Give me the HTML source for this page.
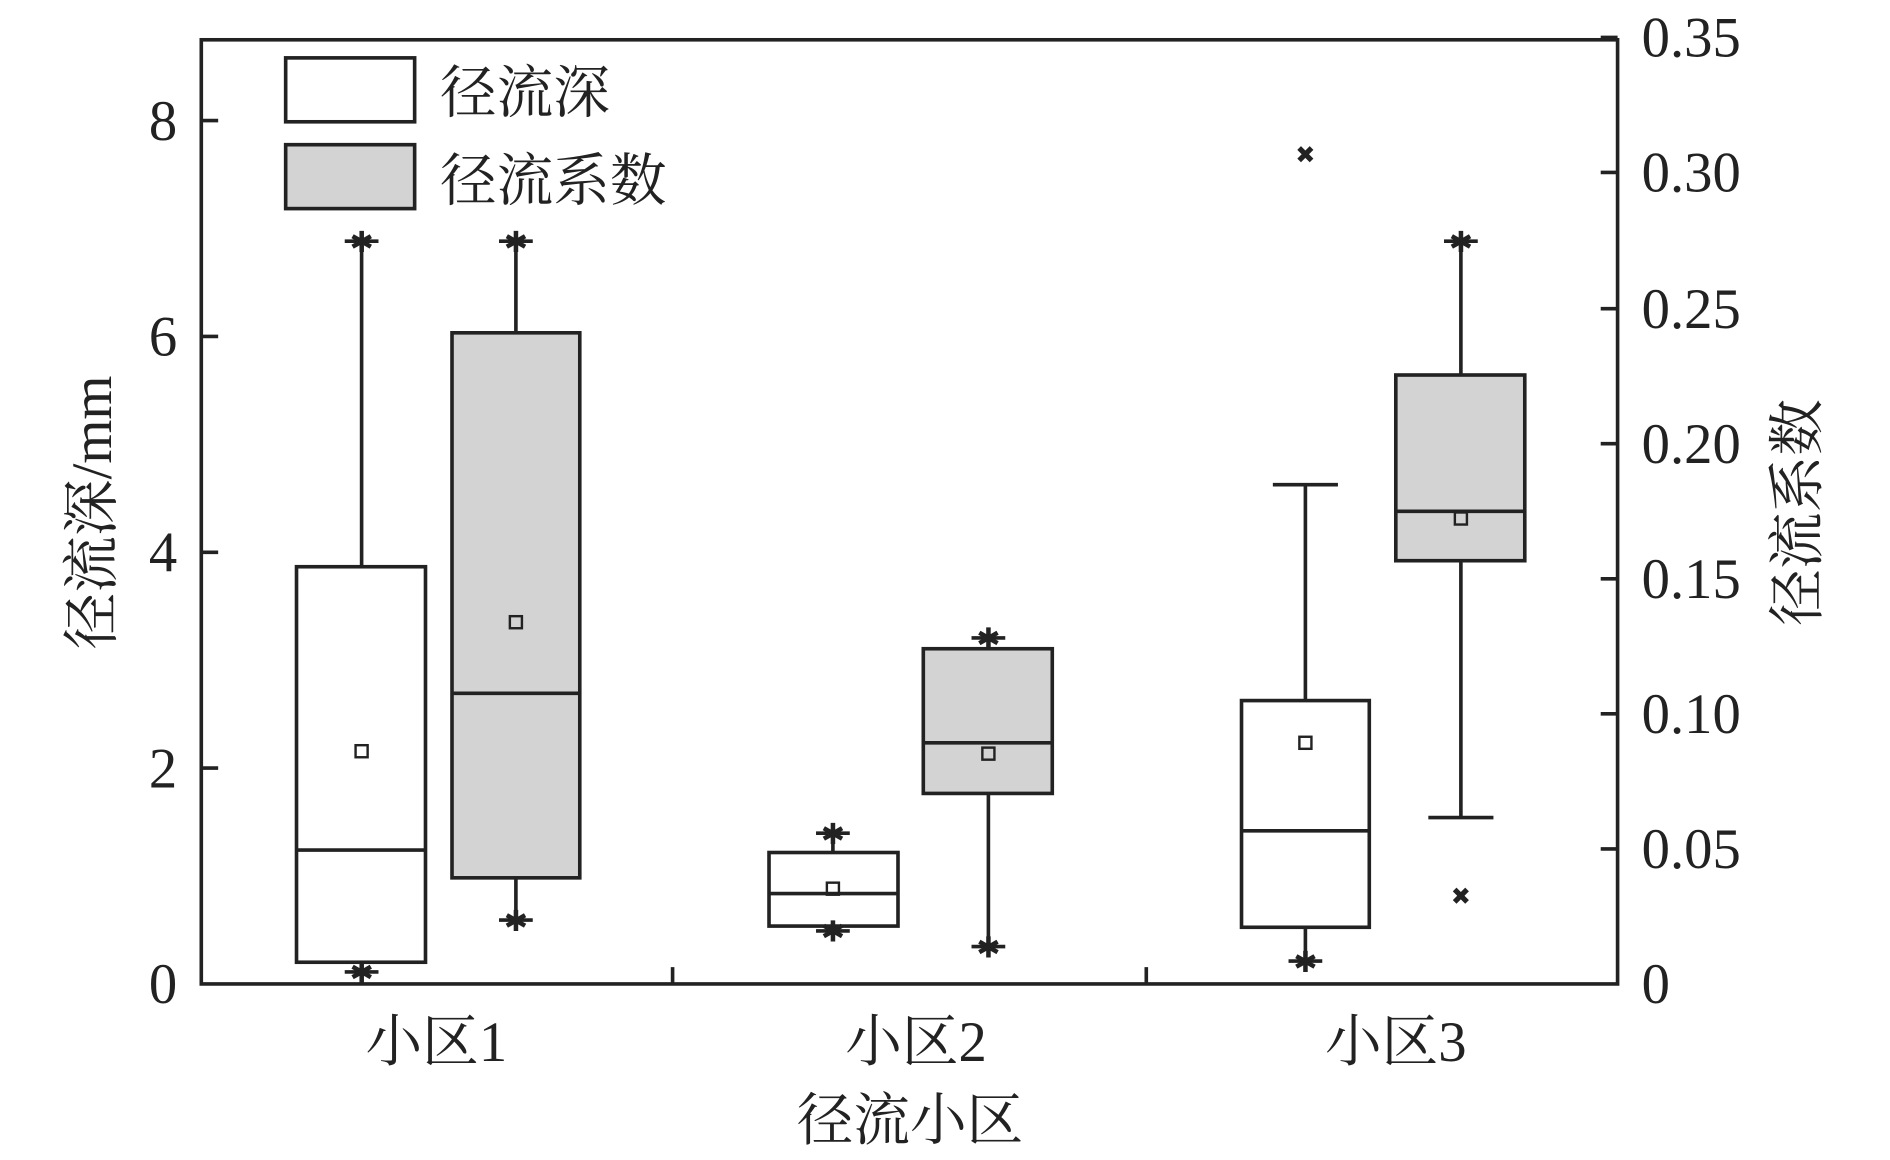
<!DOCTYPE html>
<html><head><meta charset="utf-8"><style>html,body{margin:0;padding:0;background:#fff;}svg{display:block}</style></head>
<body>
<svg width="1890" height="1160" viewBox="0 0 1568 962" preserveAspectRatio="none" xmlns="http://www.w3.org/2000/svg" font-family="'Liberation Serif','Noto Serif CJK SC',serif" fill="#222">
<g stroke="#222" stroke-width="3" fill="none">
<rect x="167" y="33" width="1175" height="783"/>
<path d="M167 100h14M167 279h14M167 458h14M167 637h14"/>
<path d="M1342 31h-14M1342 143h-14M1342 256h-14M1342 368h-14M1342 480h-14M1342 592h-14M1342 704h-14"/>
<path d="M558 816v-14M951 816v-14"/>
<path d="M300 200V470M300 798V806M286 200h28M286 806h28"/>
<rect x="246" y="470" width="107" height="328" fill="#fff"/>
<path d="M246 705h107"/>
<rect x="295" y="618" width="10" height="10" stroke-width="2"/>
<path d="M428 200V276M428 728V763M414 200h28M414 763h28"/>
<rect x="375" y="276" width="106" height="452" fill="#d3d3d3"/>
<path d="M375 575h106"/>
<rect x="423" y="511" width="10" height="10" stroke-width="2"/>
<path d="M691 691V707M691 768V772M677 691h28M677 772h28"/>
<rect x="638" y="707" width="107" height="61" fill="#fff"/>
<path d="M638 741h107"/>
<rect x="686" y="732" width="10" height="10" stroke-width="2"/>
<path d="M820 529V538M820 658V785M806 529h28M806 785h28"/>
<rect x="766" y="538" width="107" height="120" fill="#d3d3d3"/>
<path d="M766 616h107"/>
<rect x="815" y="620" width="10" height="10" stroke-width="2"/>
<path d="M1083 402V581M1083 769V797M1056 402h54M1069 797h28"/>
<rect x="1030" y="581" width="106" height="188" fill="#fff"/>
<path d="M1030 689h106"/>
<rect x="1078" y="611" width="10" height="10" stroke-width="2"/>
<path d="M1212 200V311M1212 465V678M1198 200h28M1185 678h54"/>
<rect x="1158" y="311" width="107" height="154" fill="#d3d3d3"/>
<path d="M1158 424h107"/>
<rect x="1207" y="425" width="10" height="10" stroke-width="2"/>
<rect x="237" y="48" width="107" height="53" fill="#fff"/>
<rect x="237" y="120" width="107" height="53" fill="#d3d3d3"/>
</g>
<g font-size="24" text-anchor="middle" font-family="'DejaVu Sans',sans-serif">
<text x="300" y="209">✱</text><text x="300" y="815">✱</text>
<text x="428" y="209">✱</text><text x="428" y="772">✱</text>
<text x="691" y="700">✱</text><text x="691" y="781">✱</text>
<text x="820" y="538">✱</text><text x="820" y="794">✱</text>
<text x="1083" y="806">✱</text><text x="1212" y="209">✱</text>
<text x="1083" y="135" font-size="20">✖</text><text x="1212" y="750" font-size="20">✖</text>
</g>
<g font-size="47">
<g text-anchor="end">
<text x="147" y="116">8</text><text x="147" y="295">6</text><text x="147" y="474">4</text><text x="147" y="653">2</text><text x="147" y="832">0</text>
</g>
<g>
<text x="1362" y="47">0.35</text><text x="1362" y="159">0.30</text><text x="1362" y="272">0.25</text><text x="1362" y="384">0.20</text><text x="1362" y="496">0.15</text><text x="1362" y="608">0.10</text><text x="1362" y="720">0.05</text><text x="1362" y="832">0</text>
</g>
<g text-anchor="middle">
<text x="362" y="880">小区1</text><text x="760" y="880">小区2</text><text x="1158" y="880">小区3</text>
<text x="755" y="945">径流小区</text>
</g>
<text x="365" y="93">径流深</text>
<text x="365" y="166">径流系数</text>
<text transform="translate(92,425) rotate(-90)" text-anchor="middle">径流深/mm</text>
<text transform="translate(1507,425) rotate(-90)" text-anchor="middle">径流系数</text>
</g>
</svg>
</body></html>
